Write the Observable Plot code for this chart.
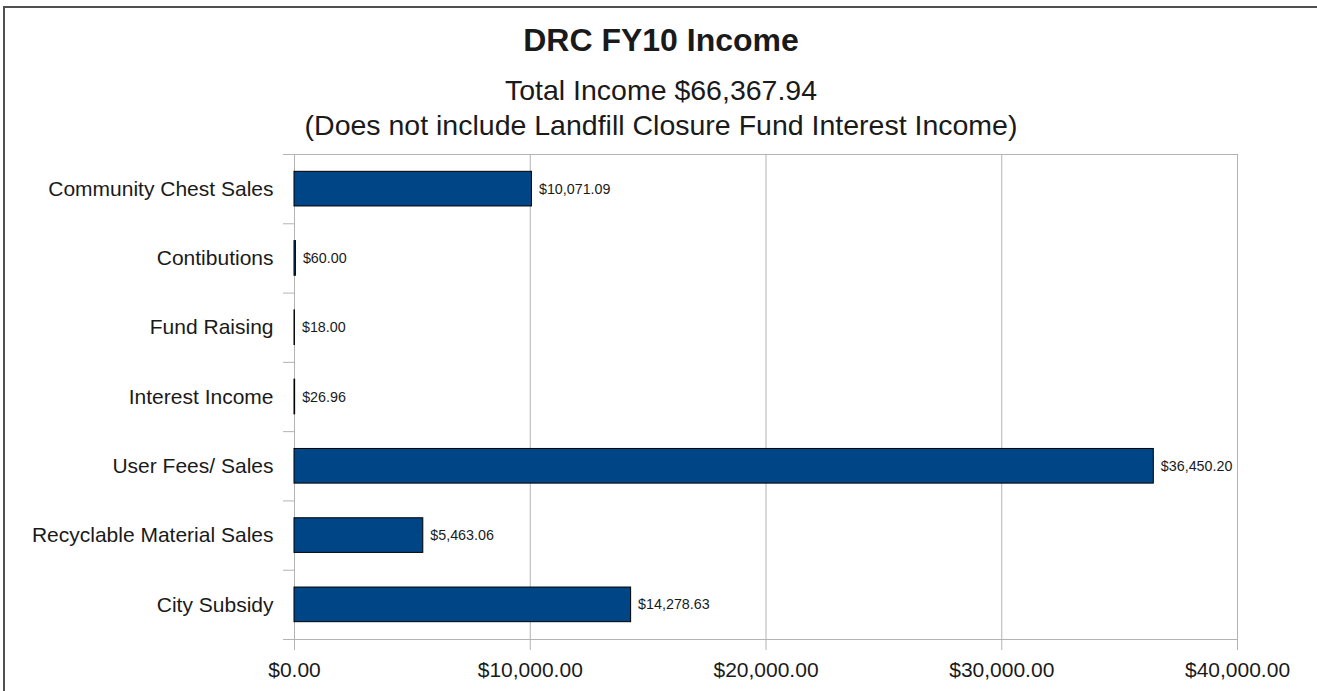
<!DOCTYPE html>
<html>
<head>
<meta charset="utf-8">
<script src="https://cdn.jsdelivr.net/npm/d3@7"></script>
<script src="https://cdn.jsdelivr.net/npm/@observablehq/plot@0.6"></script>
<style>
  html, body { margin: 0; padding: 0; background: #fff; overflow: hidden; }
  body { width: 1317px; height: 691px; position: relative; font-family: "Liberation Sans", Arial, sans-serif; color: #1a1a1a; }
  #frame { position: absolute; left: 3px; top: 6px; width: 2000px; height: 2000px; border-left: 2px solid #505050; border-top: 2px solid #505050; }
  #header { position: relative; height: 150px; }
  .t { position: absolute; left: 0; width: 1322px; text-align: center; white-space: nowrap; }
  #title { top: 24px; font-size: 32px; line-height: 32px; font-weight: bold; }
  #sub1 { top: 76px; font-size: 28.5px; line-height: 28.5px; }
  #sub2 { top: 111px; font-size: 28.5px; line-height: 28.5px; }
  #chart { position: relative; }
</style>
</head>
<body>
<div id="frame"></div>
<div id="header">
  <div class="t" id="title">DRC FY10 Income</div>
  <div class="t" id="sub1">Total Income $66,367.94</div>
  <div class="t" id="sub2">(Does not include Landfill Closure Fund Interest Income)</div>
</div>
<div id="chart"></div>
<script>
const categories = [
  "Community Chest Sales",
  "Contibutions",
  "Fund Raising",
  "Interest Income",
  "User Fees/ Sales",
  "Recyclable Material Sales",
  "City Subsidy"
];
const values = [10071.09, 60.00, 18.00, 26.96, 36450.20, 5463.06, 14278.63];
const xTicks = [0, 10000, 20000, 30000, 40000];

const fmt = d3.format("$,.2f");
const rows = categories.map((c, i) => ({category: c, value: values[i], idx: i}));
const boundaries = d3.range(categories.length + 1);
const grid = "#b3b3b3";

const chart = Plot.plot({
  width: 1317,
  height: 541,
  marginTop: 4,
  marginBottom: 52,
  marginLeft: 294,
  marginRight: 80,
  style: {fontFamily: "'Liberation Sans', Arial, sans-serif", background: "transparent", color: "#1a1a1a"},
  x: {domain: [0, 40000], axis: null},
  y: {domain: [0, categories.length], reverse: true, axis: null},
  marks: [
    Plot.ruleX(xTicks, {x: d => d, y1: 0, y2: categories.length, stroke: grid, strokeWidth: 1}),
    Plot.ruleY([0, categories.length], {y: d => d, x1: 0, x2: 40000, stroke: grid, strokeWidth: 1}),
    Plot.ruleY(boundaries, {y: d => d, x1: 0, x2: 0, insetLeft: -11, stroke: grid, strokeWidth: 1}),
    Plot.ruleX(xTicks, {x: d => d, y1: categories.length, y2: categories.length, insetBottom: -11, stroke: grid, strokeWidth: 1}),
    Plot.rectX(rows, {x1: 0, x2: "value", y1: d => d.idx + 0.25, y2: d => d.idx + 0.75, fill: "#004586", stroke: "#000", strokeWidth: 1}),
    Plot.text(rows, {x: "value", y: d => d.idx + 0.5, text: d => fmt(d.value), dx: 7, textAnchor: "start", fontSize: 14.3, fill: "#1a1a1a"}),
    Plot.text(rows, {x: 0, y: d => d.idx + 0.5, text: "category", dx: -21, textAnchor: "end", fontSize: 21, fill: "#1a1a1a"}),
    Plot.text(xTicks, {x: d => d, y: categories.length, text: d => fmt(d), dy: 31, fontSize: 21, fill: "#1a1a1a"})
  ]
});
document.getElementById("chart").appendChild(chart);
</script>
</body>
</html>
